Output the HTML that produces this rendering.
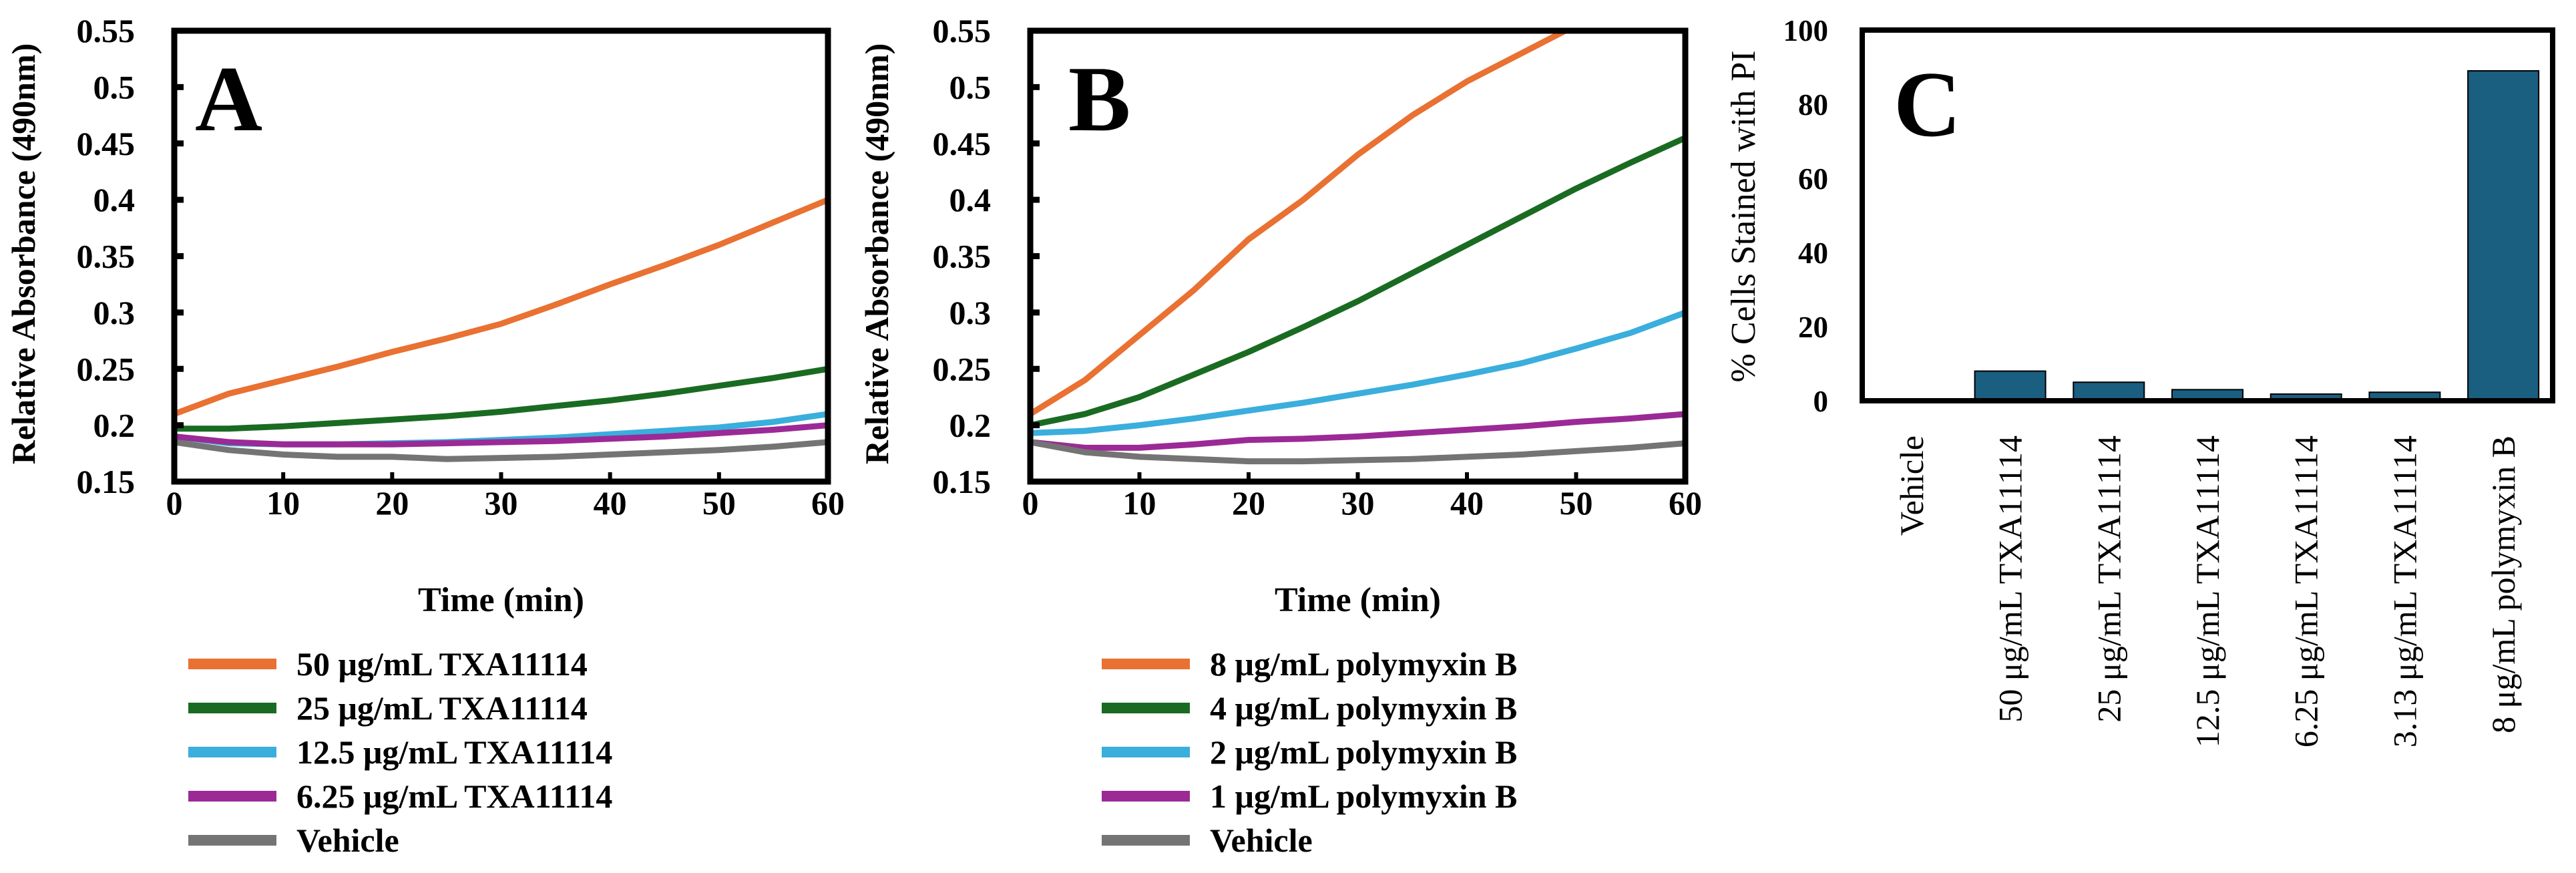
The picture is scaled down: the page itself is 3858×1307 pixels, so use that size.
<!DOCTYPE html>
<html><head><meta charset="utf-8">
<style>
html,body{margin:0;padding:0;background:#fff;}
svg{display:block;font-family:"Liberation Serif",serif;}
</style></head>
<body>
<svg id="fig" width="3858" height="1307" viewBox="0 0 3858 1307" xmlns="http://www.w3.org/2000/svg">
<g id="pa"></g>
<g id="pb"></g>
<g id="pc"></g>
</svg>
<script>
const timesA = [0,5,10,15,20,25,30,35,40,45,50,55,60];
const a50 = [0.21,0.228,0.24,0.252,0.265,0.277,0.29,0.307,0.325,0.342,0.36,0.38,0.40];
const a25 = [0.197,0.197,0.199,0.202,0.205,0.208,0.212,0.217,0.222,0.228,0.235,0.242,0.25];
const a125 = [0.19,0.184,0.183,0.183,0.184,0.185,0.187,0.189,0.192,0.195,0.198,0.203,0.21];
const a625 = [0.19,0.185,0.183,0.183,0.183,0.184,0.185,0.186,0.188,0.19,0.193,0.196,0.20];
const aVeh = [0.185,0.178,0.174,0.172,0.172,0.17,0.171,0.172,0.174,0.176,0.178,0.181,0.185];
const timesB = [0,5,10,15,20,25,30,35,40,45,50,55,60];
const b8 = [0.21,0.24,0.28,0.32,0.365,0.40,0.44,0.475,0.505,0.53,0.555,0.575,0.59];
const b4 = [0.20,0.21,0.225,0.245,0.265,0.287,0.31,0.335,0.36,0.385,0.41,0.433,0.455];
const b2 = [0.193,0.195,0.20,0.206,0.213,0.22,0.228,0.236,0.245,0.255,0.268,0.282,0.30];
const b1 = [0.185,0.18,0.18,0.183,0.187,0.188,0.19,0.193,0.196,0.199,0.203,0.206,0.21];
const bVeh = [0.185,0.176,0.172,0.17,0.168,0.168,0.169,0.17,0.172,0.174,0.177,0.18,0.184];
const yTicks = [0.15,0.2,0.25,0.3,0.35,0.4,0.45,0.5,0.55];
const yTickLabels = ["0.15","0.2","0.25","0.3","0.35","0.4","0.45","0.5","0.55"];
const xTicks = [0,10,20,30,40,50,60];
const legendA = ["50 μg/mL TXA11114","25 μg/mL TXA11114","12.5 μg/mL TXA11114","6.25 μg/mL TXA11114","Vehicle"];
const legendB = ["8 μg/mL polymyxin B","4 μg/mL polymyxin B","2 μg/mL polymyxin B","1 μg/mL polymyxin B","Vehicle"];
const colors = ["#e97132","#1a6b22","#3aaedc","#9b2a96","#747474"];
const barCats = ["Vehicle","50 μg/mL TXA11114","25 μg/mL TXA11114","12.5 μg/mL TXA11114","6.25 μg/mL TXA11114","3.13 μg/mL TXA11114","8 μg/mL polymyxin B"];
const barVals = [0,8,5,3,1.8,2.3,89];
const cTicks = [0,20,40,60,80,100];

const NS="http://www.w3.org/2000/svg";
function mk(parent,tag,attrs,text){const e=document.createElementNS(NS,tag);for(const k in attrs)e.setAttribute(k,attrs[k]);if(text!==undefined)e.textContent=text;parent.appendChild(e);return e;}

function linePanel(g,cfg,times,series,legend,letter){
  const {L,R,T,B}=cfg;
  const sx=t=>L+(t-0)/60*(R-L);
  const sy=v=>B-(v-0.15)/0.4*(B-T);
  const clipId='clip'+letter;
  const defs=mk(g,'defs',{});
  const cp=mk(defs,'clipPath',{id:clipId});
  mk(cp,'rect',{x:L,y:T,width:R-L,height:B-T});
  series.forEach((s,i)=>{
    const d=s.map((v,j)=>(j?'L':'M')+sx(times[j]).toFixed(1)+' '+sy(v).toFixed(1)).join(' ');
    const p=mk(g,'path',{d:d,fill:'none',stroke:colors[i],'stroke-width':9,'stroke-linejoin':'round','clip-path':'url(#'+clipId+')'});
    
    
  });
  const fr=mk(g,'rect',{x:L,y:T,width:R-L,height:B-T,fill:'none',stroke:'#000','stroke-width':9});
  
  
  yTicks.forEach((v,i)=>{
    mk(g,'line',{x1:L,x2:L+14,y1:sy(v),y2:sy(v),stroke:'#000','stroke-width':9});
    const t=mk(g,'text',{x:cfg.ylx,y:sy(v)+17,'text-anchor':'end','font-size':50,'font-weight':'bold'},yTickLabels[i]);
    
    
  });
  xTicks.forEach(v=>{
    mk(g,'line',{x1:sx(v),x2:sx(v),y1:B,y2:B-14,stroke:'#000','stroke-width':6});
    const t=mk(g,'text',{x:sx(v),y:770,'text-anchor':'middle','font-size':50,'font-weight':'bold'},String(v));
    
    
  });
  const xt=mk(g,'text',{x:(L+R)/2,y:915,'text-anchor':'middle','font-size':52,'font-weight':'bold'},'Time (min)');
  
  
  const yt=mk(g,'text',{x:0,y:0,transform:'translate('+cfg.ytx+',380) rotate(-90)','text-anchor':'middle','font-size':50,'font-weight':'bold'},'Relative Absorbance (490nm)');
  
  
  const pl=mk(g,'text',{x:cfg.lx,y:195,'font-size':140,'font-weight':'bold'},letter);
  
  
  legend.forEach((name,i)=>{
    const y=994+66*i;
    const e=mk(g,'g',{});
    
    
    mk(e,'rect',{x:cfg.sw,y:y-8,width:132,height:16,fill:colors[i]});
    mk(e,'text',{x:cfg.sw+162,y:y+17,'font-size':50,'font-weight':'bold'},name);
  });
}
linePanel(document.getElementById('pa'),{L:261,R:1240,T:46,B:721,ylx:202,ytx:52,lx:292,sw:282},timesA,[a50,a25,a125,a625,aVeh],legendA,'A');
linePanel(document.getElementById('pb'),{L:1543,R:2524,T:46,B:721,ylx:1484,ytx:1330,lx:1600,sw:1650},timesB,[b8,b4,b2,b1,bVeh],legendB,'B');

(function(){
  const g=document.getElementById('pc');
  const L=2789,R=3823,T=45,B=600;
  const step=(R-L)/barCats.length;
  const sy=v=>B-v/100*(B-T);
  barCats.forEach((c,i)=>{
    const cx=L+step*(i+0.5);
    if(barVals[i]>0){
      const r=mk(g,'rect',{x:cx-53,y:sy(barVals[i]),width:106,height:B-sy(barVals[i]),fill:'#1a5e80',stroke:'#000','stroke-width':2});
      
      
    }
    const t=mk(g,'text',{x:0,y:0,transform:'translate('+(cx+17)+',652) rotate(-90)','text-anchor':'end','font-size':50},c);
    
    
  });
  const fr=mk(g,'rect',{x:L,y:T,width:R-L,height:B-T,fill:'none',stroke:'#000','stroke-width':8});
  
  
  cTicks.forEach(v=>{
    const t=mk(g,'text',{x:2738,y:sy(v)+16,'text-anchor':'end','font-size':45,'font-weight':'bold'},String(v));
    
    
  });
  const yt=mk(g,'text',{x:0,y:0,transform:'translate(2628,324) rotate(-90)','text-anchor':'middle','font-size':52},'% Cells Stained with PI');
  
  
  const pl=mk(g,'text',{x:2836,y:203,'font-size':140,'font-weight':'bold'},'C');
  
  
})();
</script>
</body></html>
